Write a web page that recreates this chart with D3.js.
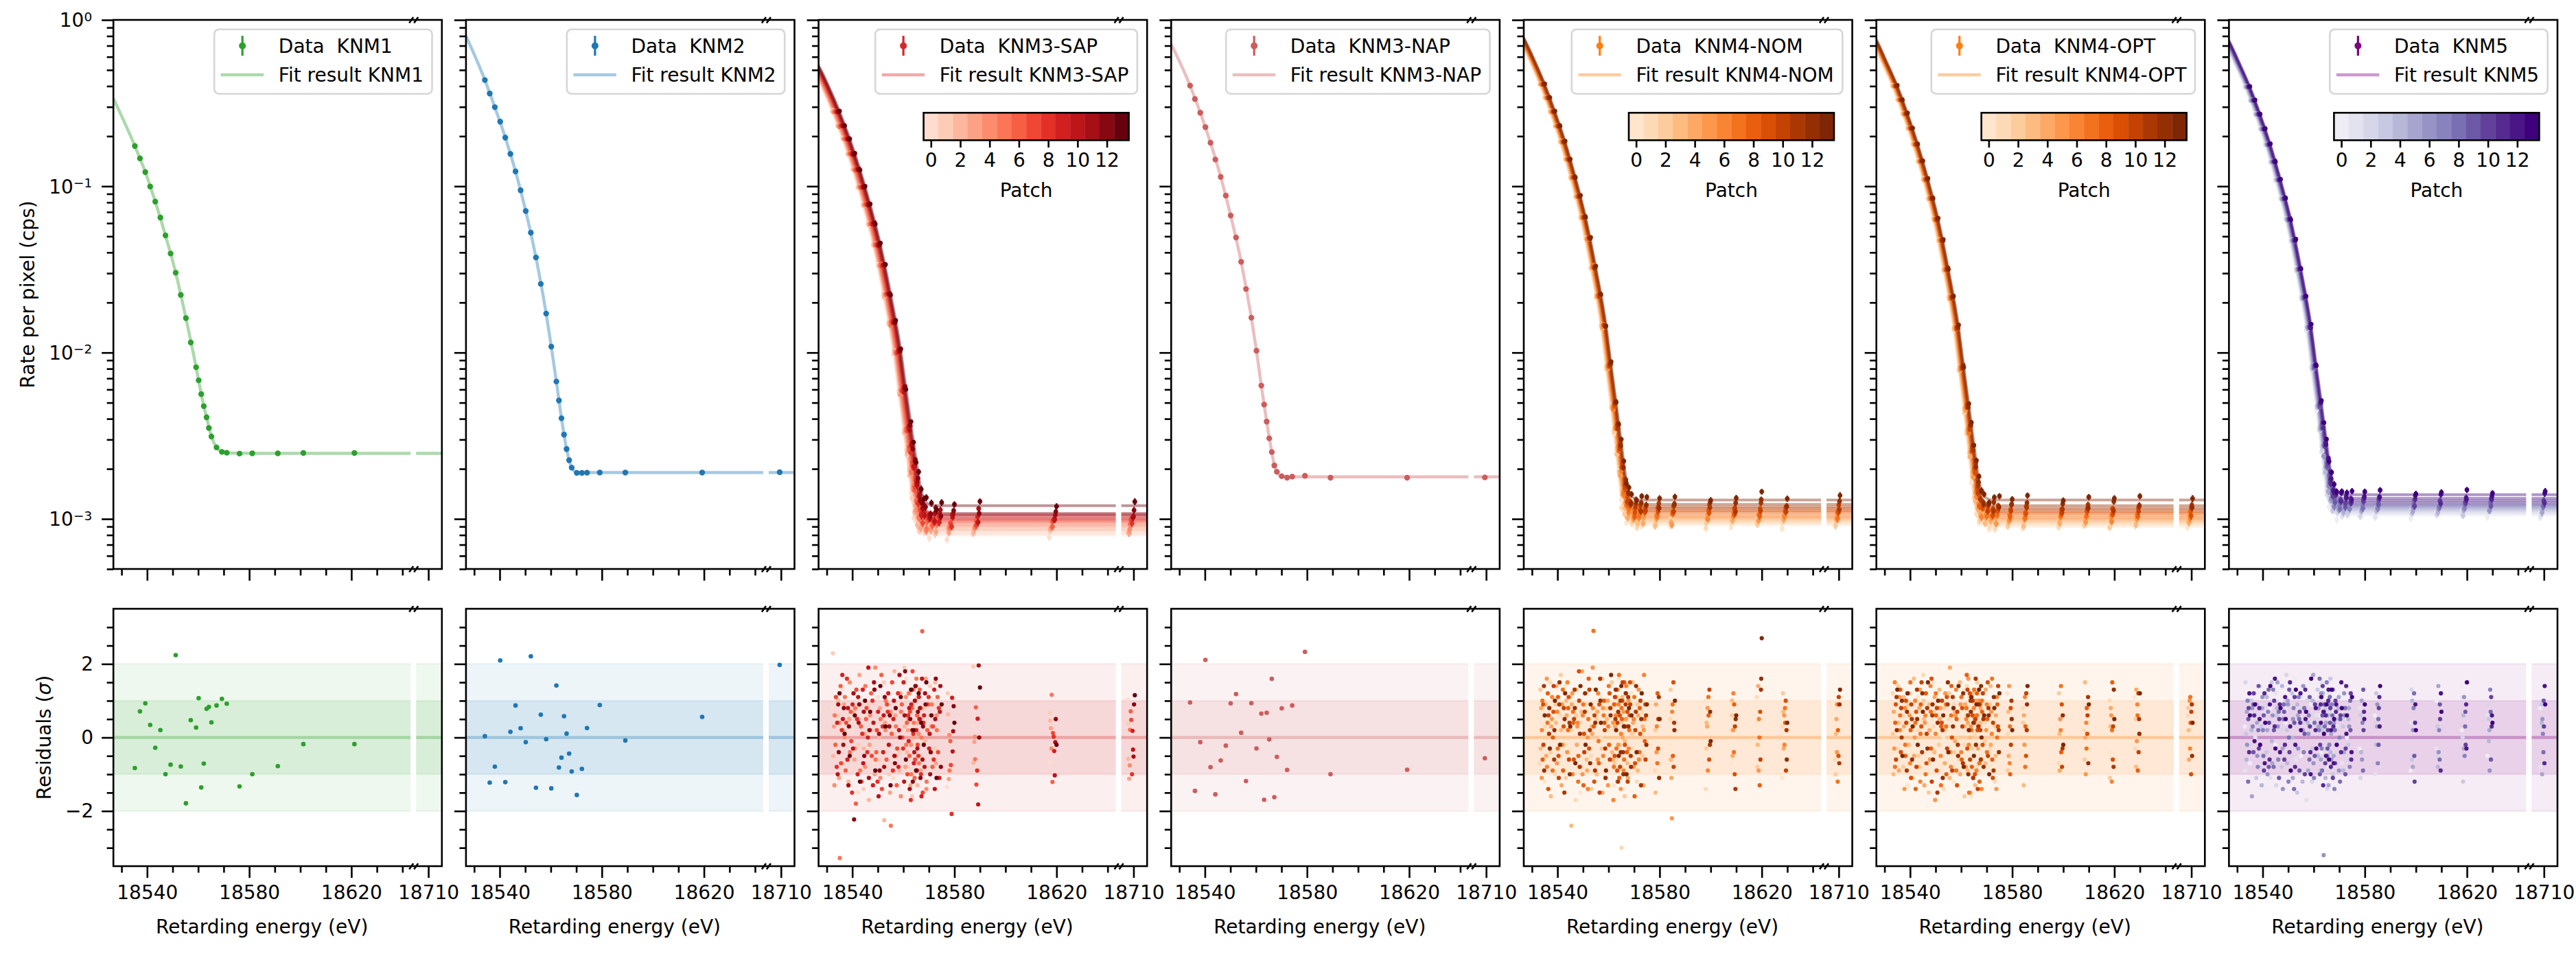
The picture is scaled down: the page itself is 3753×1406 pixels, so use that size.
<!DOCTYPE html>
<html><head><meta charset="utf-8">
<script src="https://cdn.jsdelivr.net/npm/d3@7"></script>
<style>
body{margin:0;background:#fff;}
svg text{font-family:"DejaVu Sans",sans-serif;white-space:pre;}
</style></head><body>
<svg id="chart" width="3753" height="1406"></svg>
<script>
// ---------------- DATA ----------------
const panelNames = ["KNM1","KNM2","KNM3-SAP","KNM3-NAP","KNM4-NOM","KNM4-OPT","KNM5"];
const dataColors = ["#2ca02c","#1f77b4","#d62728","#cd5c5c","#ff7f0e","#ff7f0e","#800080"];
const patchSchemes = [null,null,"Reds",null,"Oranges","Oranges","Purples"];
const patchIds = [0,1,2,3,4,5,6,7,8,9,10,11,12,13];
const patchTickLabels = [0,2,4,6,8,10,12];
const xMajorTicks = [18540,18580,18620,18710];
const xMinorTicks = [18530,18550,18560,18570,18590,18600,18610,18630,18640];
const yRateMajor = [1e-3,1e-2,1e-1,1];
const yRateExp = ["\u22123","\u22122","\u22121","0"];
const yRateMinor = [5e-4,6e-4,7e-4,8e-4,9e-4,2e-3,3e-3,4e-3,5e-3,6e-3,7e-3,8e-3,9e-3,0.02,0.03,0.04,0.05,0.06,0.07,0.08,0.09,0.2,0.3,0.4,0.5,0.6,0.7,0.8,0.9];
const yResMajor = [-2,0,2];
const yResMinor = [-3,-2.5,-1.5,-1,-0.5,0.5,1,1.5,2.5,3];

// KNM1
const knm1E = [18535.2,18537.2,18539.3,18541.2,18543.2,18545.2,18547.2,18549.2,18551.2,18553.2,18555.2,18557.1,18559.2,18560.2,18561.2,18562.2,18563.3,18564.2,18565.2,18567.2,18569.3,18571.2,18576.2,18581.2,18591.2,18601.2,18621.2];
const knm1Rate = [0.1746,0.1471,0.1217,0.0996,0.0808,0.0648,0.0506,0.0394,0.0302,0.0222,0.01612,0.0115,0.00816,0.00681,0.00563,0.00476,0.00408,0.00352,0.00313,0.00269,0.00253,0.0025,0.00247,0.00248,0.00248,0.00249,0.00249];
const knm1Resid = [-0.83,0.71,0.93,0.34,-0.28,0.2,-1.0,-0.74,2.24,-0.79,-1.79,0.47,0.27,1.07,-1.36,-0.71,0.78,0.83,0.41,0.87,1.05,0.92,-1.33,-1.0,-0.78,-0.18,-0.18];
const knm1FitE = [18526.8,18535.2,18539.3,18543.2,18547.2,18551.2,18555.2,18559.2,18561.2,18563.3,18565.2,18567.2,18569.3,18572,18580,18716];
const knm1FitRate = [0.337,0.1746,0.1217,0.0808,0.0506,0.0302,0.01612,0.00816,0.00563,0.00408,0.00313,0.00269,0.00254,0.00249,0.00248,0.00248];

// KNM2
const knm2E = [18534.2,18536.1,18538.1,18540.2,18542.2,18544.2,18546.2,18548.2,18550.2,18552.2,18554.2,18556.1,18558.2,18560.2,18562.2,18563.2,18564.2,18565.2,18566.2,18567.2,18568.2,18570.2,18572.2,18574.2,18579.2,18589.2,18619.3,18709.5];
const knm2Rate = [0.435,0.361,0.2988,0.2445,0.1961,0.1564,0.1228,0.0945,0.0709,0.0526,0.0373,0.02588,0.01716,0.01086,0.0067,0.00515,0.00403,0.00321,0.00263,0.002254,0.002033,0.001892,0.001892,0.001897,0.0019,0.0019,0.0019,0.00191];
const knm2Resid = [0.035,-1.226,-0.794,2.096,-1.215,0.152,0.87,0.251,-0.128,2.207,-1.366,0.619,-0.047,-1.384,1.413,-0.818,-0.549,0.578,0.105,-0.438,-0.923,-1.565,-0.853,0.257,0.882,-0.082,0.561,1.974];
const knm2FitE = [18526.8,18534.2,18538.1,18542.2,18546.2,18550.2,18554.2,18558.2,18560.2,18562.2,18564.2,18566.2,18567.2,18568.2,18570.2,18574,18716];
const knm2FitRate = [0.8,0.435,0.2988,0.1961,0.1228,0.0709,0.0373,0.01716,0.01086,0.0067,0.00403,0.00263,0.00225,0.00203,0.00191,0.0019,0.0019];

// KNM3-NAP
const napE = [18534.2,18536.1,18538.2,18540.2,18542.2,18544.1,18546.2,18548.2,18550.1,18552.2,18554.2,18556.1,18558.2,18560.2,18562.1,18563.2,18564.2,18565.2,18566.2,18567.2,18568.2,18570.1,18572.2,18574.2,18579.2,18589.2,18619.2,18709.5];
const napRate = [0.4027,0.3346,0.2767,0.2265,0.1825,0.1448,0.1138,0.0879,0.0667,0.0492,0.0351,0.0241,0.01621,0.01026,0.00633,0.00487,0.003845,0.003051,0.002523,0.002096,0.00192,0.001805,0.00177,0.001796,0.001815,0.00177,0.00177,0.001775];
const napResid = [0.952,-1.454,-0.128,2.108,-0.806,-1.547,-0.625,-0.222,0.928,1.18,0.128,-1.186,0.934,-0.298,0.648,-1.693,0.672,-0.053,1.594,-1.623,-0.526,0.794,-0.882,0.87,2.33,-0.999,-0.876,-0.566];
const napFitE = [18526.8,18534.2,18538.2,18542.2,18546.2,18550.1,18554.2,18558.2,18560.2,18562.1,18564.2,18566.2,18567.2,18568.2,18570.1,18574,18716];
const napFitRate = [0.716,0.4027,0.2767,0.1825,0.1138,0.0667,0.0351,0.01621,0.01026,0.00633,0.003845,0.002523,0.0021,0.00192,0.00181,0.00179,0.00179];

// KNM3-SAP (14 patches)
const sapE = [18535,18537,18539,18541,18543,18545,18547,18549,18551,18553,18555,18557,18559,18561,18563,18564,18565,18566,18567,18568,18569,18571,18573,18575,18580,18590,18620,18710.5];
const sapSignal = [0.28,0.23,0.192,0.156,0.125,0.098,0.0765,0.0585,0.0436,0.0325,0.0214,0.0142,0.0091,0.0049,0.0025,0.00167,0.00107,0.00062,0.00028,0.00013,0.00005,0.00001,0,0,0,0,0,0];
const sapErr = [0.006,0.006,0.007,0.007,0.008,0.008,0.009,0.01,0.011,0.012,0.014,0.016,0.02,0.025,0.03,0.035,0.04,0.045,0.05,0.05,0.05,0.05,0.05,0.05,0.045,0.045,0.045,0.05];
const sapShift = [-2.9,-2.6,-2.5,-2.2,-2.0,-1.9,-1.6,-1.4,-1.1,-0.9,-0.7,-0.5,-0.3,0];
const sapBg = [0.0008,0.00082,0.00085,0.00087,0.0009,0.00092,0.00095,0.00097,0.00099,0.00101,0.00104,0.00106,0.00108,0.0012];
const sapFitE = [18520,18526.8,18531,18535,18539,18543,18547,18551,18555,18559,18561,18563,18565,18567,18569,18572,18580,18720];
const sapFitSignal = [0.72,0.53,0.39,0.28,0.192,0.125,0.0765,0.0436,0.0214,0.0091,0.0049,0.0025,0.00107,0.00028,0.00005,0,0,0];
const sapResid = [
[0.8,-0.4,1.3,-0.9,0.2,-1.5,0.6,0.1,-0.7,1.1,-0.2,0.5,-1.1,0.9,-0.3,1.6,-0.6,0.3,-1.2,0.7,-0.1,0.4,-0.8,1.0,-1.35,0.32,-0.69,1.03],
[2.29,0.6,-0.7,0.3,1.2,-0.2,-1.4,0.9,0.4,-0.6,1.5,-1.0,0.1,-0.4,1.9,-0.8,0.7,-1.6,0.2,1.1,-0.5,0.8,1.4,-0.3,1.2,1.93,0.67,0.38],
[-0.5,1.0,0.2,-1.2,0.7,0.5,-0.3,-1.7,1.3,0.0,-2.25,0.6,1.8,-0.9,0.3,-0.4,1.2,0.9,-0.7,-1.3,0.5,-0.1,0.6,1.5,0.63,-0.69,0.46,-0.58],
[0.3,-1.1,0.9,0.5,-0.6,1.7,0.1,-0.2,-1.0,0.8,0.4,-1.5,0.6,1.2,-0.8,0.2,-1.3,0.0,1.0,0.4,-0.9,1.6,-0.4,-0.7,-1.13,-0.12,0.25,-1.12],
[-1.3,0.4,0.0,1.5,-0.3,0.9,-0.8,0.6,1.9,-1.1,0.2,0.7,-0.5,-1.6,1.1,0.5,-0.2,1.3,-0.9,0.1,0.8,-1.4,0.3,0.6,0.07,0.02,-0.3,-0.76],
[0.6,-3.28,1.1,-0.4,0.8,-0.9,1.4,0.2,-0.6,0.5,1.0,-2.4,0.3,0.7,-0.2,1.2,-1.0,0.4,1.6,-0.7,0.0,-1.2,0.9,0.2,-0.9,-0.59,1.16,0.21],
[-0.2,1.4,-0.9,0.7,-1.8,0.3,0.5,1.2,-0.4,1.7,-0.6,0.1,-1.3,0.9,0.4,-0.5,0.8,-1.1,0.6,1.3,2.89,0.2,-0.8,1.1,-0.1,0.82,-1.21,0.71],
[1.1,-0.7,0.4,-0.1,1.3,-1.2,0.8,-0.5,0.2,-1.4,0.9,1.5,-0.3,0.0,-1.0,0.7,1.8,-0.6,-0.2,0.5,-1.5,0.9,0.3,-0.4,-0.75,-1.28,0.12,0.48],
[-0.8,0.2,1.6,-1.5,0.5,0.1,-0.4,1.0,-1.2,0.3,0.7,-0.9,1.2,-0.3,0.6,-1.7,0.1,1.4,-0.5,-1.0,0.4,1.1,-0.6,0.8,-2.08,-0.9,0.02,-1.0],
[0.4,1.7,-0.6,0.9,-1.0,1.3,0.0,-1.3,0.7,-0.4,1.2,0.5,-0.8,1.5,-0.1,0.9,-0.7,0.2,1.1,-1.6,0.6,-0.3,1.3,-1.1,1.08,0.51,-0.37,0.18],
[-1.0,0.5,0.8,-0.3,1.1,-0.7,1.9,0.4,-1.6,0.6,-0.2,1.0,0.2,-1.2,0.8,1.3,-0.4,-0.9,0.5,1.6,-0.8,0.1,-1.4,0.7,-0.38,-1.82,-1.03,-0.33],
[0.9,-0.2,-1.3,1.2,0.4,0.7,-1.1,1.5,0.1,-0.8,0.3,-0.5,1.7,0.6,-1.4,0.2,1.0,-0.3,0.8,-0.6,1.2,-1.0,0.5,1.4,0.17,1.96,-0.13,-0.52],
[-0.4,0.8,0.3,-2.23,0.9,-0.5,0.2,1.3,-0.9,1.1,0.6,-0.7,0.0,1.8,0.5,-1.2,1.4,0.7,-1.1,0.3,0.9,-0.4,1.6,-0.8,0.85,0.0,0.5,0.9],
[1.2,0.1,-0.5,0.6,-1.2,1.0,0.7,-0.9,1.4,0.3,-1.3,0.8,1.1,-0.6,1.3,0.2,-0.9,1.2,0.4,-0.2,1.5,0.6,-1.1,0.9,0.4,1.36,-0.2,1.15]];

// KNM4-NOM
const nomE = [18535,18537,18539,18541,18543,18545,18547,18549,18551,18553,18555,18557,18559,18561,18563,18564,18565,18566,18567,18568,18569,18571,18573,18575,18580,18586,18600,18610,18620,18630,18710.5];
const nomSignal = [0.41,0.34,0.28,0.229,0.184,0.144,0.112,0.0858,0.064,0.0475,0.0313,0.0209,0.0134,0.0072,0.0037,0.00245,0.00157,0.0009,0.00041,0.00019,0.00007,0.00001,0,0,0,0,0,0,0,0,0];
const nomErr = [0.005,0.005,0.006,0.006,0.007,0.007,0.008,0.009,0.01,0.011,0.013,0.015,0.018,0.022,0.027,0.03,0.035,0.04,0.045,0.045,0.045,0.045,0.045,0.045,0.045,0.045,0.045,0.045,0.045,0.045,0.05];
const nomShift = [-2.0,-1.9,-1.7,-1.6,-1.4,-1.2,-1.1,-0.9,-0.8,-0.6,-0.5,-0.3,-0.2,0];
const nomBg = [0.00092,0.00094,0.00096,0.00098,0.001,0.00102,0.00104,0.00107,0.0011,0.00112,0.00115,0.00118,0.00122,0.0013];
const nomFitE = [18520,18526.8,18531,18535,18539,18543,18547,18551,18555,18559,18561,18563,18565,18567,18569,18572,18580,18720];
const nomFitSignal = [1.1,0.78,0.57,0.41,0.28,0.184,0.112,0.064,0.0313,0.0134,0.0072,0.0037,0.00157,0.00041,0.00007,0,0,0];
const nomResid = [
[0.5,-1.2,0.8,0.1,-0.6,1.4,-0.3,0.9,-1.5,0.2,0.7,-0.8,1.1,-0.1,0.6,-1.3,0.4,1.6,-0.5,0.0,-0.9,1.2,0.3,-0.4,0.6,-0.2,1.0,-0.7,0.4,-1.1,0.8],
[-0.7,0.3,1.5,-1.0,0.6,-0.2,1.1,-1.7,0.4,0.9,-0.5,1.3,0.0,-1.1,0.8,0.2,-0.6,1.0,-3.0,0.5,1.4,-0.3,-1.2,0.7,-0.9,0.5,-1.4,0.2,1.1,0.3,-0.6],
[1.3,0.0,-0.4,0.9,1.7,-1.1,0.2,0.6,-0.8,1.2,-1.4,0.5,-0.3,0.8,1.5,-0.7,1.1,-0.2,0.4,-1.6,0.7,0.1,0.9,-0.5,0.2,1.3,-0.3,0.6,-0.8,1.2,-1.0],
[-0.3,0.9,-1.6,0.4,0.2,1.0,-2.4,1.3,0.7,-0.6,0.3,-1.0,1.6,0.5,-0.4,0.9,-1.2,0.6,1.1,-0.1,-0.7,1.5,-0.9,0.3,-1.5,-0.6,0.4,1.0,-0.2,0.7,0.1],
[0.8,-0.5,0.3,1.4,-1.3,0.6,0.9,-0.2,1.8,-0.9,0.1,0.7,-1.5,1.0,-0.6,0.3,1.3,-0.8,0.0,1.2,-1.1,0.4,0.6,-1.3,0.9,-1.1,0.3,-0.5,1.4,-0.3,0.5],
[-1.1,1.6,0.5,-0.7,0.9,-0.4,1.2,0.3,-1.0,0.0,1.9,-0.6,0.8,-1.3,0.4,1.1,-0.2,-1.4,0.7,0.5,1.0,-0.8,1.3,0.2,-0.4,-2.2,0.8,0.2,-0.9,0.6,-0.4],
[0.2,-0.8,1.1,0.7,-0.2,1.5,-1.0,0.4,0.6,-1.4,0.8,1.2,-0.5,0.3,-1.7,0.6,0.9,0.1,-0.9,1.4,-0.3,0.5,-0.6,1.7,0.3,0.7,-0.9,1.2,0.5,-0.2,0.9],
[1.0,0.4,-0.9,-0.3,1.3,0.2,0.7,-1.2,0.9,0.5,2.9,-0.1,0.6,1.4,-0.8,-0.3,1.7,0.8,-0.6,-1.0,0.2,1.1,-0.4,0.5,-0.7,0.9,1.1,-0.4,0.0,0.8,-1.2],
[-0.6,1.2,0.0,1.1,-0.9,0.8,0.4,-0.5,-1.3,1.6,0.3,-0.7,1.0,-0.2,0.9,1.3,-1.1,0.5,1.5,-0.4,0.6,-1.6,0.8,-0.1,1.2,-0.5,0.6,0.9,-1.3,0.4,0.2],
[0.9,-1.4,0.7,-0.5,0.3,1.1,-0.6,1.8,0.1,-0.3,-1.2,0.9,0.4,1.2,-0.5,-0.9,0.6,1.0,-0.2,0.7,1.5,-0.7,0.1,0.9,-0.3,1.5,-0.6,-1.0,0.7,1.0,-0.5],
[-0.2,0.6,1.4,-1.1,0.8,-0.6,0.5,1.0,-0.4,1.3,0.6,-1.5,0.2,-0.6,1.1,0.4,-0.8,1.5,0.3,-1.2,0.9,0.2,1.0,-0.6,0.5,-0.8,1.3,0.3,-0.6,-0.9,1.1],
[1.4,0.1,-0.6,0.9,-1.5,0.4,1.3,-0.8,0.7,0.2,-0.9,1.6,-0.3,0.8,0.5,-1.2,1.0,-0.4,0.9,1.1,-0.5,0.7,-1.3,0.6,1.1,0.4,-0.2,-1.4,1.3,0.2,-0.7],
[-0.9,0.8,0.2,1.5,0.5,-1.0,0.8,0.1,1.2,-0.7,0.4,1.0,-1.1,0.6,1.3,0.7,-0.4,-1.0,1.2,0.3,-0.8,1.4,0.5,-0.2,-1.1,0.2,0.7,0.5,1.6,-0.6,0.9],
[0.6,-0.3,1.0,-0.2,1.2,0.3,-0.7,1.4,-0.2,0.9,1.3,0.4,-0.9,1.7,0.2,-0.5,1.4,0.3,-1.0,0.8,0.6,-0.4,1.2,0.9,0.5,1.0,-0.1,0.6,2.7,0.4,1.3]];

// KNM4-OPT
const optE = [18535,18537,18539,18541,18543,18545,18547,18549,18551,18553,18555,18557,18559,18561,18563,18564,18565,18566,18567,18568,18569,18571,18573,18575,18580,18586,18600,18610,18620,18630,18710.5];
const optSignal = [0.4,0.33,0.272,0.222,0.178,0.14,0.109,0.0835,0.0623,0.0462,0.0305,0.0203,0.013,0.007,0.0036,0.00238,0.00152,0.00087,0.0004,0.00018,0.00007,0.00001,0,0,0,0,0,0,0,0,0];
const optErr = [0.005,0.005,0.006,0.006,0.007,0.007,0.008,0.009,0.01,0.011,0.013,0.015,0.018,0.022,0.027,0.03,0.035,0.04,0.045,0.045,0.045,0.045,0.045,0.045,0.045,0.045,0.045,0.045,0.045,0.045,0.05];
const optShift = [-2.0,-1.8,-1.7,-1.5,-1.4,-1.2,-1.0,-0.9,-0.8,-0.6,-0.5,-0.3,-0.2,0];
const optBg = [0.0009,0.00092,0.00094,0.00096,0.00098,0.001,0.00102,0.00105,0.00108,0.0011,0.00113,0.00116,0.0012,0.0013];
const optFitE = [18520,18526.8,18531,18535,18539,18543,18547,18551,18555,18559,18561,18563,18565,18567,18569,18572,18580,18720];
const optFitSignal = [1.07,0.76,0.55,0.4,0.272,0.178,0.109,0.0623,0.0305,0.013,0.007,0.0036,0.00152,0.0004,0.00007,0,0,0];
const optResid = [
[-0.4,0.9,0.2,-1.3,0.7,1.1,-0.6,0.3,1.5,-0.9,0.0,0.8,-1.2,0.5,1.3,-0.3,0.6,-1.6,0.9,0.1,-0.5,1.0,-0.8,0.4,1.2,-0.6,0.3,0.9,-0.4,1.1,-0.2],
[1.2,-0.3,0.6,0.4,-1.1,0.2,1.7,-0.7,0.3,1.0,-1.4,0.5,0.9,-0.6,-0.2,1.4,-1.0,0.7,0.1,-0.8,1.3,0.4,-0.3,-1.2,0.1,0.8,-0.7,0.2,1.0,-0.3,0.6],
[0.1,1.4,-0.8,0.9,0.3,-0.5,1.0,-1.5,0.7,-0.2,0.8,1.2,-0.4,0.0,-1.6,0.6,1.1,-0.3,0.5,1.5,-0.7,-0.1,0.9,0.3,-0.9,0.4,1.2,-0.6,-1.1,0.5,0.8],
[-1.0,0.4,1.1,-0.2,1.6,-0.8,0.5,0.9,-0.4,1.3,0.2,-1.1,0.7,1.5,0.3,-0.9,0.0,1.2,-1.3,0.6,0.4,-0.7,1.4,-0.5,0.7,-1.3,0.1,1.5,0.3,-0.8,0.2],
[0.7,-0.9,0.3,1.2,-0.5,0.8,-1.3,0.2,1.1,0.5,-0.7,1.9,-0.1,-1.0,0.9,0.4,-1.5,0.6,1.0,-0.3,0.8,1.3,-0.2,0.6,-0.5,0.6,-0.9,0.0,0.8,1.3,-0.6],
[-0.3,1.1,-1.4,0.6,0.0,1.3,0.4,-0.6,-1.7,0.8,1.2,-0.4,0.6,0.9,-0.8,1.6,0.3,-1.1,0.5,1.0,-0.6,0.2,0.7,-1.4,1.4,-0.2,0.5,-1.0,0.6,-0.1,1.0],
[1.5,0.2,0.8,-0.7,1.0,-1.2,0.6,1.4,0.1,-0.5,0.9,-0.8,1.3,-0.4,0.5,-0.2,1.1,0.8,-0.9,0.3,-1.4,0.9,0.1,1.1,-0.7,1.1,0.2,0.4,-1.2,0.9,-0.3],
[-0.8,0.6,-0.2,1.5,0.4,0.1,-1.0,0.7,1.2,-1.3,0.3,0.6,-0.9,1.1,0.8,-1.5,0.2,1.3,0.6,-0.7,1.0,-0.4,1.6,0.0,0.3,-0.8,1.4,-0.3,0.2,0.6,1.1],
[0.4,1.3,-0.5,0.2,-1.4,0.9,1.2,-0.3,0.6,0.3,-1.0,1.4,0.5,-0.6,1.7,0.2,-0.8,0.4,1.2,-1.2,0.7,0.5,-0.6,0.9,-1.0,0.3,-0.4,0.8,1.5,-0.9,0.4],
[0.9,-0.4,1.0,-1.1,0.7,0.3,-0.7,1.6,-0.9,0.4,1.1,0.0,-1.3,0.8,-0.3,1.2,0.6,-1.0,0.2,0.9,-0.2,1.5,-1.1,0.3,0.8,-0.5,0.9,0.1,-0.6,1.2,-1.0],
[-0.6,0.8,0.4,0.9,-0.8,1.5,0.1,-1.2,0.8,1.0,-0.3,-0.9,0.7,0.3,1.3,-0.6,1.0,0.5,-1.4,0.2,1.2,-0.5,0.4,1.4,-0.2,1.2,-0.8,0.6,0.3,-0.4,0.7],
[1.1,0.0,-0.9,0.5,1.3,-0.4,0.8,0.6,-1.5,0.2,0.9,1.1,-0.2,-0.7,0.6,1.0,-1.1,1.6,0.3,-0.6,0.5,0.8,-0.9,0.2,1.0,0.2,-0.3,1.1,-0.8,0.5,0.9],
[0.2,1.0,0.7,-0.6,0.5,1.2,-0.3,0.9,0.4,-1.1,1.5,0.3,-0.5,1.2,-1.0,0.7,0.4,-0.2,0.9,1.4,-0.8,0.6,1.1,-0.4,0.5,0.9,0.6,-0.7,1.3,0.1,-0.5],
[1.3,-0.5,1.2,0.3,-0.2,0.7,1.5,-0.6,1.0,0.6,-0.4,0.8,1.4,-0.8,0.2,1.1,-0.5,0.9,1.3,0.0,0.6,-1.0,0.8,1.2,0.2,1.4,-0.2,0.9,0.5,1.2,0.4]];

// KNM5
const k5E = [18535,18537,18539,18541,18543,18545,18547,18549,18551,18553,18555,18557,18559,18561,18563,18564,18565,18566,18567,18568,18569,18571,18573,18575,18580,18586,18600,18610,18620,18630,18710.5];
const k5Signal = [0.395,0.327,0.27,0.22,0.177,0.139,0.108,0.083,0.062,0.046,0.0304,0.0202,0.013,0.007,0.0036,0.00238,0.00152,0.00087,0.0004,0.00018,0.00007,0.00001,0,0,0,0,0,0,0,0,0];
const k5Err = [0.005,0.005,0.006,0.006,0.007,0.007,0.008,0.009,0.01,0.011,0.013,0.015,0.018,0.022,0.027,0.03,0.035,0.04,0.045,0.045,0.045,0.045,0.045,0.045,0.045,0.045,0.045,0.045,0.045,0.045,0.05];
const k5Shift = [-2.0,-1.9,-1.7,-1.5,-1.4,-1.2,-1.1,-0.9,-0.7,-0.6,-0.5,-0.3,-0.2,0];
const k5Bg = [0.00105,0.00107,0.00109,0.00111,0.00113,0.00115,0.00117,0.00119,0.00121,0.00123,0.00126,0.00129,0.00133,0.0014];
const k5FitE = [18520,18526.8,18531,18535,18539,18543,18547,18551,18555,18559,18561,18563,18565,18567,18569,18572,18580,18720];
const k5FitSignal = [1.05,0.75,0.545,0.395,0.27,0.177,0.108,0.062,0.0304,0.013,0.007,0.0036,0.00152,0.0004,0.00007,0,0,0];
const k5Resid = [
[0.3,-0.7,1.2,0.5,-1.4,0.8,-0.2,1.0,0.4,-0.9,1.6,-0.5,0.1,0.9,-1.2,0.6,-0.4,1.3,0.2,-0.8,0.7,-1.5,1.1,0.0,-0.3,0.6,-0.9,1.0,0.2,-0.5,0.8],
[-0.9,0.5,0.0,1.4,0.7,-1.1,1.2,-0.4,0.8,0.3,-0.6,1.1,-1.7,0.4,0.6,-0.2,1.5,-0.9,0.9,1.2,-0.4,0.3,-0.7,1.4,0.8,-1.0,0.4,-0.3,1.1,0.6,-0.8],
[1.5,-0.2,0.6,-0.8,0.9,0.4,-1.3,0.2,1.7,-0.5,0.3,0.8,1.0,-1.2,0.5,1.1,-0.6,0.1,-1.4,0.7,0.9,-0.1,0.5,-0.6,-1.1,0.4,1.3,-0.5,0.0,0.9,0.3],
[0.1,1.0,-1.1,0.3,-0.4,1.5,0.6,-0.8,0.2,1.2,-1.5,0.4,0.7,-0.3,1.3,-0.9,0.2,0.8,-0.6,1.6,-1.0,0.5,0.3,-0.2,0.6,1.2,-0.6,0.3,-1.2,0.5,0.9],
[-0.6,0.2,0.9,-1.3,1.1,-0.1,0.8,1.4,-0.7,0.0,0.9,-1.2,0.4,1.0,-0.5,0.3,1.2,-1.1,0.6,-0.4,1.3,0.8,-0.9,0.5,-0.4,-0.2,1.0,-0.8,0.6,-0.1,0.4],
[0.7,-1.6,0.4,0.8,0.2,-0.7,1.5,-0.3,1.0,-1.1,0.6,0.2,-0.9,1.7,0.3,-0.6,0.9,0.4,-1.3,0.1,-0.5,1.1,-0.4,0.8,1.0,0.3,-0.8,1.4,-0.3,0.2,-1.0],
[-0.2,0.8,-0.5,1.1,-1.0,0.6,0.3,-1.4,0.9,0.5,-0.3,1.4,0.1,-0.7,0.8,1.2,-3.2,0.6,0.9,-0.6,0.4,-0.9,1.2,0.3,-0.6,0.9,0.2,-0.4,1.1,-0.9,0.5],
[1.0,0.3,-0.8,0.2,0.7,1.3,-0.6,0.5,-1.2,0.8,1.1,-0.4,0.6,-1.1,0.2,-0.3,0.7,1.5,-0.2,0.9,-1.4,0.0,0.6,-0.8,0.4,-0.7,0.8,0.2,-0.5,1.3,0.1],
[-1.2,0.9,0.2,-0.5,1.3,-0.8,0.7,0.9,0.0,-1.4,0.5,0.8,-0.6,0.4,1.6,-0.9,0.3,-0.5,1.1,0.6,0.2,-1.2,0.8,1.0,-0.9,0.5,1.2,-0.6,0.3,0.7,-0.4],
[0.5,-0.4,1.4,0.6,-0.8,0.2,-1.1,0.7,1.3,0.4,-0.9,0.1,1.1,-0.5,-1.0,0.6,0.9,-0.3,0.4,1.3,-0.7,0.5,-1.0,0.2,1.3,-0.2,-0.5,0.9,0.7,-0.6,1.0],
[0.8,1.2,-0.3,-0.9,0.4,1.0,0.5,-0.6,-0.4,1.1,0.7,-1.0,0.3,0.9,-0.2,1.4,-0.7,0.2,0.8,-1.1,1.0,0.6,-0.3,1.2,0.2,0.8,-1.2,0.5,-0.2,1.1,0.3],
[-0.4,0.6,0.8,1.2,-0.6,0.3,0.9,-0.2,1.5,-0.8,0.4,1.3,-0.4,0.2,0.9,-1.3,0.6,1.0,-0.8,0.3,0.7,-0.4,1.4,-0.6,0.7,1.1,0.4,-0.9,0.9,0.3,-0.7],
[1.2,-0.1,0.5,-0.7,0.9,1.6,-0.4,1.1,0.3,-0.2,1.2,0.5,-1.0,0.8,0.4,0.7,-0.5,1.3,0.2,-0.7,0.9,1.5,0.1,-0.4,0.5,0.3,0.9,1.2,-0.3,0.6,1.4],
[0.6,0.9,-0.2,0.4,1.4,-0.3,0.8,0.5,-0.9,1.3,0.2,0.7,1.6,-0.3,1.1,0.1,0.9,-0.6,1.3,0.5,-0.2,0.8,0.6,1.1,0.9,1.4,0.2,0.7,1.5,0.4,0.9]];

// ---------------- LAYOUT ----------------
const W = 3753, H = 1406;
const panelLeft0 = 165.2, panelPitch = 513.7, panelW = 478.6;
const topY0 = 29, topH = 800, botY0 = 887, botH = 375;
const gapX0 = 433, gapX1 = 441;
const fontMain = 28;

const singles = {
  0: {E: knm1E, rate: knm1Rate, resid: knm1Resid, fitE: knm1FitE, fitRate: knm1FitRate},
  1: {E: knm2E, rate: knm2Rate, resid: knm2Resid, fitE: knm2FitE, fitRate: knm2FitRate},
  3: {E: napE, rate: napRate, resid: napResid, fitE: napFitE, fitRate: napFitRate}
};
const patches = {
  2: {E: sapE, sig: sapSignal, err: sapErr, shift: sapShift, bg: sapBg, fitE: sapFitE, fitSig: sapFitSignal, resid: sapResid},
  4: {E: nomE, sig: nomSignal, err: nomErr, shift: nomShift, bg: nomBg, fitE: nomFitE, fitSig: nomFitSignal, resid: nomResid},
  5: {E: optE, sig: optSignal, err: optErr, shift: optShift, bg: optBg, fitE: optFitE, fitSig: optFitSignal, resid: optResid},
  6: {E: k5E, sig: k5Signal, err: k5Err, shift: k5Shift, bg: k5Bg, fitE: k5FitE, fitSig: k5FitSignal, resid: k5Resid}
};

const svg = d3.select("#chart");
svg.append("rect").attr("width", W).attr("height", H).attr("fill", "#fff");
const defs = svg.append("defs");

const x = d3.scaleLinear().domain([18526.8, 18643.2, 18705.2, 18715.3]).range([0, gapX0, gapX1, panelW]);
const yTop = d3.scaleLog().domain([5e-4, 1]).range([topH, 0]);
const yBot = d3.scaleLinear().domain([-3.5, 3.5]).range([botH, 0]);

function styleAxis(g) {
  g.select(".domain").remove();
  g.selectAll(".tick line").attr("stroke", "#000").attr("stroke-width", 2.6);
  g.selectAll(".tick text").attr("font-size", fontMain).attr("font-family", "DejaVu Sans").attr("fill", "#000");
  g.attr("font-size", null).attr("font-family", null);
}
function breakMarks(g, y) {
  [0, 7].forEach(o => {
    g.append("line").attr("x1", gapX0 - 2 + o).attr("y1", y + 4.5).attr("x2", gapX0 + 4 + o).attr("y2", y - 4)
      .attr("stroke", "#000").attr("stroke-width", 2.6);
  });
}
function drawXAxes(g, h, labels) {
  styleAxis(g.append("g").attr("transform", `translate(0,${h})`)
    .call(d3.axisBottom(x).tickValues(xMajorTicks).tickSize(17).tickPadding(11).tickFormat(labels ? d3.format("d") : () => "")));
  styleAxis(g.append("g").attr("transform", `translate(0,${h})`)
    .call(d3.axisBottom(x).tickValues(xMinorTicks).tickSize(9.5).tickFormat(() => "")));
}
function spines(g, h) {
  g.append("rect").attr("width", panelW).attr("height", h).attr("fill", "none").attr("stroke", "#000").attr("stroke-width", 2.6);
  breakMarks(g, 0); breakMarks(g, h);
}

panelNames.forEach((name, i) => {
  const gx = panelLeft0 + i * panelPitch;
  const color = dataColors[i];
  const scheme = patchSchemes[i];
  const interp = scheme ? d3["interpolate" + scheme] : null;
  const patchColor = p => interp(0.125 + 0.875 * p / 13);

  defs.append("clipPath").attr("id", "ct" + i).append("rect").attr("width", panelW).attr("height", topH);
  defs.append("clipPath").attr("id", "cb" + i).append("rect").attr("width", panelW).attr("height", botH);

  const gT = svg.append("g").attr("transform", `translate(${gx},${topY0})`);
  const dT = gT.append("g").attr("clip-path", `url(#ct${i})`);
  const line = d3.line().x(d => x(d[0])).y(d => yTop(d[1])).curve(d3.curveMonotoneX);

  const gB = svg.append("g").attr("transform", `translate(${gx},${botY0})`);
  const dB = gB.append("g").attr("clip-path", `url(#cb${i})`);
  dB.append("rect").attr("x", 0).attr("width", panelW).attr("y", yBot(2)).attr("height", yBot(-2) - yBot(2))
    .attr("fill", color).attr("fill-opacity", 0.075);
  dB.append("rect").attr("x", 0).attr("width", panelW).attr("y", yBot(1)).attr("height", yBot(-1) - yBot(1))
    .attr("fill", color).attr("fill-opacity", 0.11);
  [-2, -1, 1, 2].forEach(v => dB.append("line").attr("x1", 0).attr("x2", panelW).attr("y1", yBot(v)).attr("y2", yBot(v))
    .attr("stroke", color).attr("stroke-opacity", 0.07).attr("stroke-width", 2.5));
  dB.append("line").attr("x1", 0).attr("x2", panelW).attr("y1", yBot(0)).attr("y2", yBot(0))
    .attr("stroke", color).attr("stroke-opacity", 0.3).attr("stroke-width", 4.5);

  if (singles[i]) {
    const S = singles[i];
    dT.append("path").datum(d3.zip(S.fitE, S.fitRate)).attr("d", line).attr("fill", "none")
      .attr("stroke", color).attr("stroke-opacity", 0.4).attr("stroke-width", 4.5);
    dT.append("rect").attr("x", gapX0).attr("width", gapX1 - gapX0).attr("height", topH).attr("fill", "#fff");
    dT.selectAll("circle.pt").data(d3.zip(S.E, S.rate)).join("circle").attr("class", "pt")
      .attr("cx", d => x(d[0])).attr("cy", d => yTop(d[1])).attr("r", 4.2).attr("fill", color);
    dB.append("rect").attr("x", gapX0).attr("width", gapX1 - gapX0).attr("height", botH).attr("fill", "#fff");
    dB.selectAll("circle.rs").data(d3.zip(S.E, S.resid)).join("circle").attr("class", "rs")
      .attr("cx", d => x(d[0])).attr("cy", d => yBot(d[1])).attr("r", 3.3).attr("fill", color);
  } else {
    const P = patches[i];
    patchIds.forEach(p => {
      const pts = P.fitE.map((e, k) => [e + P.shift[p], P.fitSig[k] + P.bg[p]]);
      dT.append("path").datum(pts).attr("d", line).attr("fill", "none")
        .attr("stroke", patchColor(p)).attr("stroke-opacity", 0.42).attr("stroke-width", 4);
    });
    dT.append("rect").attr("x", gapX0).attr("width", gapX1 - gapX0).attr("height", topH).attr("fill", "#fff");
    patchIds.forEach(p => {
      const c = patchColor(p);
      const pts = P.E.map((e, k) => {
        const m = P.sig[k] + P.bg[p];
        return {e: e + P.shift[p], r: m * (1 + P.resid[p][k] * P.err[k]), s: m * P.err[k]};
      });
      const gp = dT.append("g");
      gp.selectAll("line").data(pts).join("line")
        .attr("x1", d => x(d.e)).attr("x2", d => x(d.e))
        .attr("y1", d => yTop(d.r + d.s)).attr("y2", d => yTop(Math.max(d.r - d.s, 1e-5)))
        .attr("stroke", c).attr("stroke-width", 2.4);
      gp.selectAll("circle").data(pts).join("circle")
        .attr("cx", d => x(d.e)).attr("cy", d => yTop(d.r)).attr("r", 3.4).attr("fill", c);
    });
    dB.append("rect").attr("x", gapX0).attr("width", gapX1 - gapX0).attr("height", botH).attr("fill", "#fff");
    patchIds.forEach(p => {
      const c = patchColor(p);
      dB.append("g").selectAll("circle").data(P.E.map((e, k) => [e + P.shift[p], P.resid[p][k]])).join("circle")
        .attr("cx", d => x(d[0])).attr("cy", d => yBot(d[1])).attr("r", 3.1).attr("fill", c);
    });
  }

  drawXAxes(gT, topH, false);
  styleAxis(gT.append("g").call(d3.axisLeft(yTop).tickValues(yRateMajor).tickSize(17).tickFormat(() => "")));
  styleAxis(gT.append("g").call(d3.axisLeft(yTop).tickValues(yRateMinor).tickSize(9.5).tickFormat(() => "")));
  spines(gT, topH);
  drawXAxes(gB, botH, true);
  styleAxis(gB.append("g").call(d3.axisLeft(yBot).tickValues(yResMajor).tickSize(17).tickPadding(12)
    .tickFormat(i === 0 ? d3.format("d") : () => "")));
  styleAxis(gB.append("g").call(d3.axisLeft(yBot).tickValues(yResMinor).tickSize(9.5).tickFormat(() => "")));
  spines(gB, botH);

  gB.append("text").attr("x", x(18585)).attr("y", 473).attr("text-anchor", "middle")
    .attr("font-size", fontMain).text("Retarding energy (eV)");

  if (i === 0) {
    yRateMajor.forEach((v, k) => {
      const t = gT.append("text").attr("x", -31).attr("y", yTop(v) + 10.3).attr("text-anchor", "end").attr("font-size", fontMain);
      t.append("tspan").text("10");
      t.append("tspan").attr("dy", -8.5).attr("font-size", 18.5).text(yRateExp[k]);
    });
    gT.append("text").attr("transform", `translate(${49.5 - gx},${topH / 2}) rotate(-90)`)
      .attr("text-anchor", "middle").attr("font-size", fontMain).text("Rate per pixel (cps)");
    const rl = gB.append("text").attr("transform", `translate(${74 - gx},${botH / 2}) rotate(-90)`)
      .attr("text-anchor", "middle").attr("font-size", fontMain);
    rl.append("tspan").text("Residuals (");
    rl.append("tspan").attr("font-style", "italic").text("\u03c3");
    rl.append("tspan").text(")");
  }

  const lg = gT.append("g");
  const t1 = lg.append("text").attr("x", 93.7).attr("y", 34).attr("font-size", fontMain).text("Data  " + name);
  const t2 = lg.append("text").attr("x", 93.7).attr("y", 76.3).attr("font-size", fontMain).text("Fit result " + name);
  const tw = Math.max(t1.node().getComputedTextLength(), t2.node().getComputedTextLength());
  const lw = 93.7 + tw + 12.5;
  lg.insert("rect", ":first-child").attr("x", 0).attr("y", 0).attr("width", lw).attr("height", 94).attr("rx", 7)
    .attr("fill", "#fff").attr("fill-opacity", 0.8).attr("stroke", "#d6d6d6").attr("stroke-width", 2.6);
  lg.append("line").attr("x1", 41).attr("x2", 41).attr("y1", 9.5).attr("y2", 38.5).attr("stroke", color).attr("stroke-width", 3.2);
  lg.append("circle").attr("cx", 41).attr("cy", 24).attr("r", 5).attr("fill", color);
  lg.append("line").attr("x1", 9.6).attr("x2", 72).attr("y1", 66.3).attr("y2", 66.3).attr("stroke", color)
    .attr("stroke-opacity", 0.4).attr("stroke-width", 4.5);
  lg.attr("transform", `translate(${panelW - 14.3 - lw},13.7)`);

  if (scheme) {
    const cbW = 299, cbH = 40;
    const cbx = d3.scaleLinear().domain([-0.5, 13.5]).range([0, cbW]);
    const cg = gT.append("g").attr("transform", `translate(${panelW - 26.6 - cbW},135.3)`);
    cg.selectAll("rect.blk").data(patchIds).join("rect").attr("class", "blk")
      .attr("x", p => cbx(p - 0.5)).attr("width", cbx(1) - cbx(0) + 0.3).attr("height", cbH).attr("fill", p => patchColor(p));
    cg.append("rect").attr("width", cbW).attr("height", cbH).attr("fill", "none").attr("stroke", "#000").attr("stroke-width", 2.6);
    const ax = cg.append("g").attr("transform", `translate(0,${cbH})`)
      .call(d3.axisBottom(cbx).tickValues(patchTickLabels).tickSize(10.7).tickPadding(8).tickFormat(d3.format("d")));
    styleAxis(ax);
    cg.append("text").attr("x", cbW / 2).attr("y", cbH + 82.4).attr("text-anchor", "middle").attr("font-size", fontMain).text("Patch");
  }
});
</script></body></html>
